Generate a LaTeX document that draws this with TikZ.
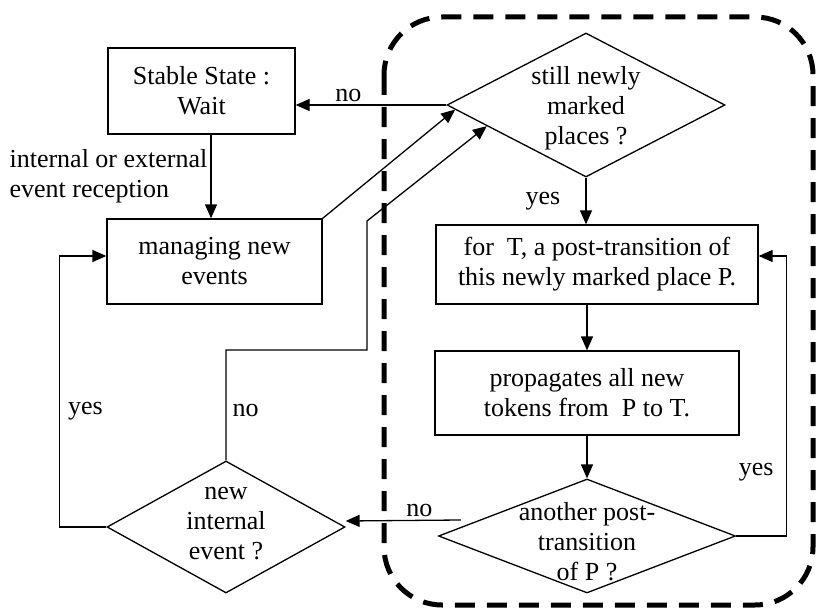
\documentclass[tikz,border=0pt]{standalone}
\usepackage{fontspec}
\setmainfont{Liberation Serif}
\usetikzlibrary{positioning}
\usetikzlibrary{shapes.geometric}
\usetikzlibrary{arrows.meta}

\begin{document}
\begin{tikzpicture}[
            > = {Triangle[length=14pt,width=12pt]}, % arrow head style
            x = 1pt, y = -1pt, % one unit per pixel, going down
            line width = 1.3pt, % line style
            font = \fontsize{26}{30}\selectfont
        ]

        \tikzstyle{block}=[
            draw,
            rectangle,
            align = center,
            inner sep = 0pt
        ]
        \tikzstyle{decision}=[
            draw,
            diamond,
            inner sep = 0pt
        ]
        \tikzstyle{dtext}=[align = center, inner sep = 0pt]
        \tikzstyle{lbl}=[inner sep = 3pt]

        \useasboundingbox (0,0) rectangle (820,610);

% waiting side
        \node[block, minimum width = 187pt, minimum height = 86pt] (stable) at (201.5,91) {Stable State :\\Wait};
        \node[block, minimum width = 215pt, minimum height = 85pt] (manage) at (214.5,261.5) {managing new\\events};
        \node[decision, minimum width = 238pt, minimum height = 132pt,
              label = {[dtext, yshift = 3pt]center:new\\internal\\event ?}] (newev) at (226,527) {};

        % propagation loop
        \node[decision, minimum width = 278pt, minimum height = 144pt,
              label = {[dtext, yshift = -3pt]center:still newly\\marked\\places ?}] (still) at (586,105) {};
        \node[block, minimum width = 322pt, minimum height = 79pt] (post) at (597,264.5) {for\ \ T, a post-transition of\\this newly marked place P.};
        \node[block, minimum width = 304pt, minimum height = 84pt] (prop) at (587,393) {propagates all new\\tokens from\ \ P to T.};
        \node[decision, minimum width = 297pt, minimum height = 114pt,
              label = {[dtext, yshift = -6pt]center:another post-\\transition\\of P ?}] (another) at (587,536) {};

        \coordinate (recv) at ([xshift = 9.5pt]stable.south);

        \draw[->] (still.west) -- (still.west -| stable.east) node[lbl, above, pos = 0.65] {no};
        \draw[->] (recv) -- (recv |- manage.north) node[lbl, left, midway, align = left] {internal or external\\event reception};
        \draw[->] (manage.north east) -- (still.182);
        \draw[->] (newev.north) |- node[lbl, right = 3pt, pos = 0.225] {no} (367,350) -- (367,221) -- (still.192);
        \draw[->] (newev.west) -- ++(-47,0) |- node[lbl, right = 5pt, pos = 0.214] {yes} ([yshift = 5.5pt]manage.west);

        \draw[->] (still.south) -- (still.south |- post.north) node[lbl, left = 22pt, midway] {yes};
        \draw[->] (prop.north |- post.south) -- (prop.north);
        \draw[->] (prop.south) -- (another.north);
        \draw[->] (another.east) -- ++(50,0) |- node[lbl, left = 9pt, pos = 0.114] {yes} ([yshift = 8.5pt]post.east);
        \draw[->] ([shift = {(23pt,16pt)}]another.west) -- ([yshift = 6pt]newev.east) node[lbl, above, pos = 0.36] {no};

        % loop frame
        \draw[line width = 5pt, dash pattern = on 20pt off 12pt, rounded corners = 58pt] (384,17) rectangle (813,605);

\end{tikzpicture}
\end{document}
